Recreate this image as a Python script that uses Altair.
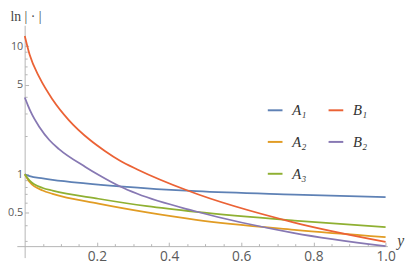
import json
import altair as alt
import pandas as pd

# ---- data (x = y-coordinate, v = |.| value) ----
A1_x = [0, 0.0136, 0.05, 0.077, 0.168, 0.263, 0.475, 0.747, 1.0]
A1_v = [1, 0.965, 0.927, 0.904, 0.849, 0.805, 0.737, 0.694, 0.663]

A2_x = [0, 0.0136, 0.05, 0.077, 0.204, 0.339, 0.475, 0.747, 1.0]
A2_v = [1, 0.868, 0.745, 0.703, 0.589, 0.503, 0.44, 0.368, 0.323]

A3_x = [0, 0.0136, 0.05, 0.077, 0.204, 0.339, 0.475, 0.747, 1.0]
A3_v = [1, 0.892, 0.781, 0.745, 0.643, 0.562, 0.507, 0.434, 0.386]

B1_x = [0, 0.0136, 0.041, 0.077, 0.122, 0.181, 0.222, 0.263, 0.312, 0.453, 0.747, 1.0]
B1_v = [12.04, 8.57, 5.68, 3.84, 2.65, 1.85, 1.52, 1.28, 1.09, 0.742, 0.419, 0.296]

B2_x = [0, 0.009, 0.018, 0.041, 0.068, 0.095, 0.168, 0.204, 0.263, 0.312, 0.475, 0.747, 1.0]
B2_v = [3.98, 3.44, 3.01, 2.33, 1.85, 1.57, 1.14, 0.99, 0.805, 0.703, 0.511, 0.347, 0.274]

series_names = ["A\u2081", "A\u2082", "A\u2083", "B\u2081", "B\u2082"]
series_colors = ["#5E81B5", "#E19C24", "#8FB032", "#EB6235", "#8778B3"]

x_label_values = [0.2, 0.4, 0.6, 0.8, 1.0]
x_tick_values = [0.05, 0.1, 0.15, 0.2, 0.25, 0.3, 0.35, 0.4, 0.45, 0.5,
                 0.55, 0.6, 0.65, 0.7, 0.75, 0.8, 0.85, 0.9, 0.95, 1.0]
y_label_values = [0.5, 1, 5, 10]
y_tick_values = [0.3, 0.4, 0.5, 0.6, 0.7, 0.8, 0.9, 1, 2, 3, 4, 5, 6, 7, 8, 9, 10]

X_DOMAIN = [-0.022, 1.005]
Y_DOMAIN = [0.223, 14.6]
W, H = 378, 237

rows = []
for name, xs, vs in [("A\u2081", A1_x, A1_v), ("A\u2082", A2_x, A2_v), ("A\u2083", A3_x, A3_v),
                     ("B\u2081", B1_x, B1_v), ("B\u2082", B2_x, B2_v)]:
    for x, v in zip(xs, vs):
        rows.append({"yy": x, "val": v, "s": name})
df = pd.DataFrame(rows)

xscale = alt.Scale(domain=X_DOMAIN, nice=False, zero=False)
yscale = alt.Scale(type="log", domain=Y_DOMAIN, nice=False)

AX = "#b4b4b4"
LBL = "#5a5a5a"
TICKFONT = "Open Sans"

lines = alt.Chart(df).mark_line(strokeWidth=1.8, interpolate="monotone").encode(
    x=alt.X("yy:Q", scale=xscale, axis=alt.Axis(
        orient="bottom", offset=-11.7, values=x_label_values, format=".1f",
        ticks=False, grid=False, domainColor=AX, domainWidth=1,
        labelFont=TICKFONT, labelFontSize=14, labelColor=LBL, labelPadding=4,
        labelFlush=False,
        title="y", titleFont="Liberation Serif", titleFontStyle="italic",
        titleFontWeight="normal", titleFontSize=16, titleColor="#444",
        titleX=391, titleY=-6, titleAlign="center", titleBaseline="middle")),
    y=alt.Y("val:Q", scale=yscale, axis=alt.Axis(
        orient="left", offset=-8, values=y_label_values, format="~g",
        ticks=False, grid=False, domainColor=AX, domainWidth=1,
        labelFont=TICKFONT, labelFontSize=11, labelColor=LBL, labelPadding=2,
        labelFlush=False,
        title="ln | \u00b7 |", titleFont="Liberation Serif", titleFontWeight="normal",
        titleFontSize=14, titleColor="#444", titleAngle=0,
        titleX=-15, titleY=-5, titleAlign="left", titleBaseline="alphabetic")),
    color=alt.Color("s:N", scale=alt.Scale(domain=series_names, range=series_colors),
                    legend=alt.Legend(
                        orient="none", legendX=255, legendY=78, columns=2, title=None,
                        symbolType="stroke", symbolSize=225, symbolStrokeWidth=2,
                        labelFont="Liberation Serif", labelFontStyle="italic",
                        labelFontSize=15, labelColor="#333", labelOffset=9,
                        rowPadding=15.5, columnPadding=18, padding=0)),
)

x_major_test = "indexof(" + json.dumps(x_label_values) + ", datum.value) >= 0"
y_major_test = "indexof(" + json.dumps(y_label_values) + ", datum.value) >= 0"

ticks = alt.Chart(df).mark_point(opacity=0, size=1).encode(
    x=alt.X("yy:Q", scale=xscale, axis=alt.Axis(
        orient="top", offset=-(H - 11.7), values=x_tick_values, labels=False,
        domain=False, grid=False, title=None, tickColor=AX, tickWidth=1,
        tickSize={"condition": {"test": x_major_test, "value": 4}, "value": 2.5})),
    y=alt.Y("val:Q", scale=yscale, axis=alt.Axis(
        orient="right", offset=-(W - 8), values=y_tick_values, labels=False,
        domain=False, grid=False, title=None, tickColor=AX, tickWidth=1,
        tickSize={"condition": {"test": y_major_test, "value": 4}, "value": 2.5})),
)

chart = alt.layer(lines, ticks).resolve_axis(x="independent", y="independent").properties(
    width=W, height=H,
    padding={"left": 9, "top": 15, "right": 20, "bottom": 7},
    autosize=alt.AutoSizeParams(type="none"),
).configure_view(stroke=None)

chart.save("out.html", embed_options={"renderer": "svg", "actions": False})
